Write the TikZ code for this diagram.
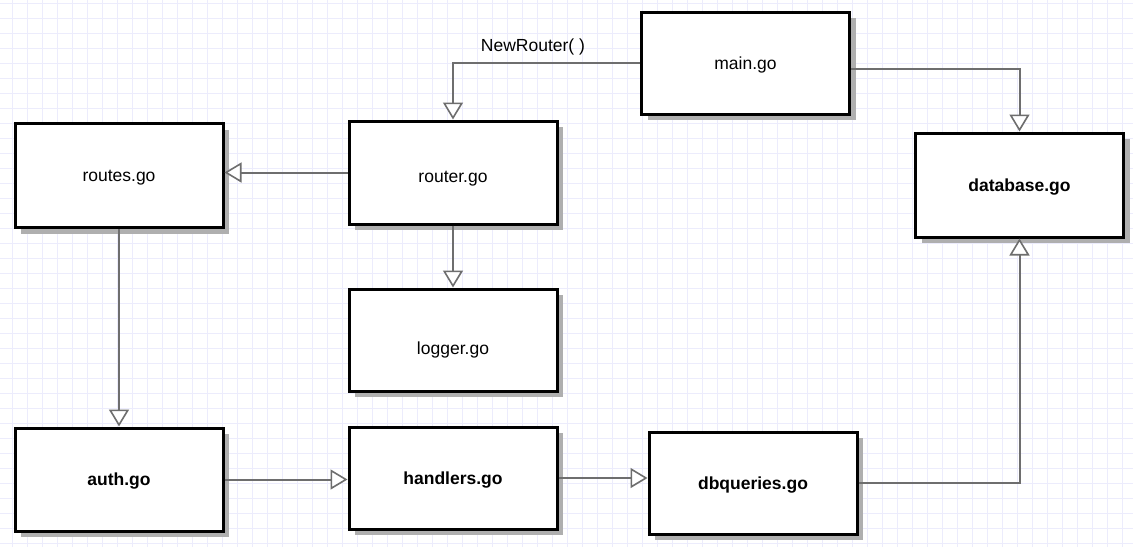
\documentclass[tikz,border=0pt]{standalone}
\usepackage{fontspec}
\setmainfont{Liberation Sans}
\usetikzlibrary{arrows.meta,calc}
\definecolor{gridc}{RGB}{236,236,252}
\definecolor{linec}{RGB}{110,110,110}
\definecolor{shadowc}{RGB}{175,175,175}
\begin{document}
\begin{tikzpicture}[x=1pt,y=-1pt,
  filebox/.style={draw=black, line width=3pt, fill=white, minimum width=208pt, minimum height=102pt,
    inner sep=0pt, font=\fontsize{17.5}{20}\selectfont, text height=16.5pt, text depth=4pt,
    preaction={draw=none, fill=shadowc, transform canvas={xshift=6pt, yshift=-6pt}}},
  boldbox/.style={filebox, font=\fontsize{17.5}{20}\selectfont\bfseries},
  conn/.style={draw=linec, line width=2pt,
    -{Triangle[open,length=17pt,width=20pt,fill=white,line width=1.6pt]}},
  lbl/.style={font=\fontsize{17.5}{20}\selectfont, inner sep=1pt}
]
\useasboundingbox (0,0) rectangle (1133,547);
\fill[white] (0,0) rectangle (1133,547);
% grid
\foreach \gx in {12,27,...,1133} {\draw[gridc, line width=1pt] (\gx,0) -- (\gx,547);}
\foreach \gy in {3,18,...,547} {\draw[gridc, line width=1pt] (0,\gy) -- (1133,\gy);}

\node[filebox] (main) at (745.5,63) {main.go};
\node[boldbox, minimum height=104pt] (db) at (1019.5,185) {database.go};
\node[filebox, minimum height=104pt] (routes) at (119,175.5) {routes.go};
\node[filebox, minimum height=103pt, text height=24.5pt] (router) at (453,172.5) {router.go};
\node[filebox, text height=32.5pt] (logger) at (453,340) {logger.go};
\node[boldbox, minimum height=103pt] (auth) at (119,479.5) {auth.go};
\node[boldbox] (handlers) at (453,478) {handlers.go};
\node[boldbox] (dbq) at (753,483) {dbqueries.go};

\coordinate (mainR) at ($(main.east)+(0,6)$);
\draw[conn] (main.west) -| (router.north);
\node[lbl] (nr) at (533,47) {NewRouter( )};
\draw[conn] (mainR) -| (db.north);
\draw[conn] (router.west) -- (router.west -| routes.east);
\draw[conn] (router.south) -- (logger.north);
\draw[conn] (routes.south) -- (auth.north);
\draw[conn] (auth.east) -- (auth.east -| handlers.west);
\draw[conn] (handlers.east) -- (handlers.east -| dbq.west);
\draw[conn] (dbq.east) -| (db.south);
\end{tikzpicture}
\end{document}
